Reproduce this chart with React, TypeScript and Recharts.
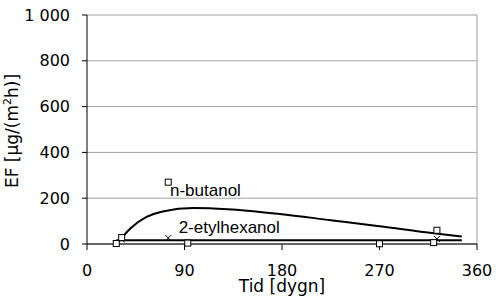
import {
  ComposedChart,
  CartesianGrid,
  Line,
  ReferenceDot,
  ReferenceLine,
  Scatter,
  XAxis,
  YAxis,
  Label,
} from "recharts";

// measured points
const measDays = [27, 32, 75, 93, 270, 320, 323];
const butanolMeas = [2, 28, 270, 4, 1, 6, 60];
const ethylMeas = [3, 20, 26, 5, 2, 6, 22];

// fitted curves
const butanolFitDays = [33, 40, 55, 70, 98, 130, 178, 225, 270, 320, 346];
const butanolFit = [32, 68, 118, 142, 157, 152, 131, 104, 78, 47, 33];
const ethylFitDays = [27, 346];
const ethylFit = [16, 16];

const xTicks = [0, 90, 180, 270, 360];
const yTicks = [0, 200, 400, 600, 800, 1000];

const butanolPts = measDays.map((x, i) => ({ x, y: butanolMeas[i] }));
const ethylPts = measDays.map((x, i) => ({ x, y: ethylMeas[i] }));
const butanolLine = butanolFitDays.map((x, i) => ({ x, y: butanolFit[i] }));
const ethylLine = ethylFitDays.map((x, i) => ({ x, y: ethylFit[i] }));

const tickFont = { fontFamily: "DejaVu Sans", fontSize: 16, fill: "#000" };

const Square = (p: any) => (
  <rect x={p.cx - 3} y={p.cy - 3} width={6} height={6} fill="#fff" stroke="#000" strokeWidth={1} />
);

const Cross = (p: any) => (
  <path
    d={`M${p.cx - 3},${p.cy - 3}L${p.cx + 3},${p.cy + 3}M${p.cx - 3},${p.cy + 3}L${p.cx + 3},${p.cy - 3}`}
    stroke="#000"
    strokeWidth={1}
  />
);

const fmt = (v: number) => (v >= 1000 ? `${Math.floor(v / 1000)} ${String(v % 1000).padStart(3, "0")}` : String(v));

export default function App() {
  return (
    <div style={{ position: "absolute", left: 0, top: 0, background: "#fff" }}>
      <ComposedChart width={496} height={301} margin={{ top: 15, right: 19, bottom: 0, left: 0 }}>
        <CartesianGrid vertical={false} stroke="#a0a0a0" strokeWidth={1} />
        <XAxis
          type="number"
          dataKey="x"
          domain={[0, 360]}
          ticks={xTicks}
          height={57}
          tickSize={6}
          tickMargin={15}
          tick={tickFont}
          stroke="#000"
          allowDataOverflow
        >
          <Label
            value="Tid [dygn]"
            position="insideBottom"
            offset={9}
            style={{ fontFamily: "DejaVu Sans", fontSize: 17, fill: "#000" }}
          />
        </XAxis>
        <YAxis
          type="number"
          dataKey="y"
          domain={[0, 1000]}
          ticks={yTicks}
          width={87}
          tickSize={5}
          tickMargin={12}
          tick={tickFont}
          tickFormatter={fmt}
          stroke="#000"
          label={{
            content: () => (
              <text
                transform="translate(18,131) rotate(-90)"
                textAnchor="middle"
                style={{ fontFamily: "DejaVu Sans", fontSize: 17, fill: "#000" }}
              >
                EF [µg/(m
                <tspan fontSize={11} dy={-7}>2</tspan>
                <tspan dy={7}>h)]</tspan>
              </text>
            ),
          }}
        />
        <ReferenceLine x={360} stroke="#a0a0a0" />
        <Line
          data={ethylLine}
          dataKey="y"
          type="linear"
          stroke="#000"
          strokeWidth={2}
          dot={false}
          isAnimationActive={false}
        />
        <Line
          data={butanolLine}
          dataKey="y"
          type="monotone"
          stroke="#000"
          strokeWidth={2}
          dot={false}
          isAnimationActive={false}
        />
        <Scatter data={ethylPts} shape={Cross} isAnimationActive={false} />
        <Scatter data={butanolPts} shape={Square} isAnimationActive={false} />
        <ReferenceDot x={72} y={235} r={0} stroke="none" fill="none">
          <Label
            value="n-butanol"
            position="right"
            style={{ fontFamily: "Liberation Sans", fontSize: 17, fill: "#000" }}
          />
        </ReferenceDot>
        <ReferenceDot x={80} y={75} r={0} stroke="none" fill="none">
          <Label
            value="2-etylhexanol"
            position="right"
            style={{ fontFamily: "Liberation Sans", fontSize: 17, fill: "#000" }}
          />
        </ReferenceDot>
      </ComposedChart>
    </div>
  );
}
